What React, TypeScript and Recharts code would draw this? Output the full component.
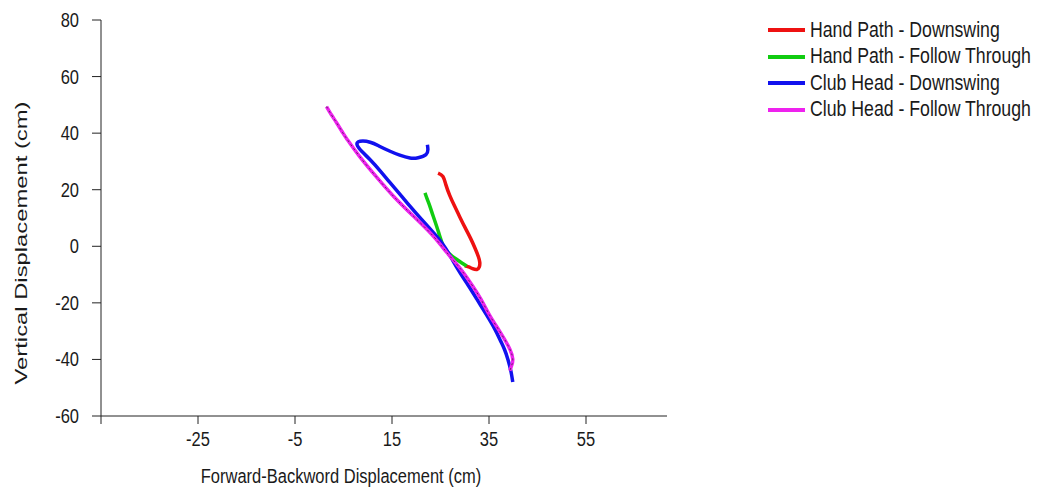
import { LineChart, Line, XAxis, YAxis } from 'recharts';

// Golf swing trajectories (cm)
const handDownswing = [
  [24.5, 25.9], [25.5, 24.7], [26.1, 21.8], [26.9, 18.0], [27.9, 14.2], [29.0, 10.3],
  [30.1, 6.5], [31.2, 2.8], [32.1, -0.6], [32.8, -3.6], [33.1, -5.7],
  [33.0, -7.3], [32.5, -8.2], [31.6, -7.9], [30.8, -7.3], [30.0, -6.9],
];
const handFollow = [
  [30.4, -7.0], [29.4, -5.9], [28.3, -4.6], [27.2, -3.2], [26.3, -1.7], [25.6, 0],
  [25.2, 1.8], [24.7, 4.4], [24.2, 7.1], [23.5, 10.6], [22.8, 14.2], [22.3, 16.5], [21.8, 18.9],
];
const clubDownswing = [
  [22.3, 35.9], [22.4, 34.2], [22.0, 32.4], [20.4, 31.3], [18.7, 31.2], [16.6, 32.2],
  [14.6, 33.6], [12.5, 35.3], [10.5, 36.8], [8.4, 37.1], [7.8, 35.9], [8.8, 33.5],
  [10.5, 30.6], [12.6, 26.6], [14.6, 22.5], [16.7, 18.3], [18.7, 14.2], [21.1, 9.5],
  [23.5, 4.9], [26.0, -0.6], [28.6, -8.2], [30.6, -13.5], [32.5, -18.7], [34.4, -24.0],
  [36.2, -29.3], [37.4, -33.5], [38.2, -36.5], [38.9, -40.0], [39.5, -44.0], [39.9, -48.0],
];
const clubFollow = [
  [1.5, 49.4], [2.5, 46.5], [3.6, 43.6], [4.9, 40.0], [5.8, 37.7], [8.3, 31.8], [11.7, 24.7],
  [15.3, 17.7], [19.5, 10.5], [23.5, 3.6], [26.3, -2.2], [28.8, -7.3], [31.1, -12.7],
  [33.3, -18.6], [35.2, -24.6], [37.4, -30.6], [39.3, -36.4], [39.9, -39.9], [39.7, -42.0],
  [39.3, -44.0],
];

// -45 is the axis minimum: it gets a tick mark but no label
const xTicks = [-45, -25, -5, 15, 35, 55];
const yTicks = [-60, -40, -20, 0, 20, 40, 60, 80];

const toRows = (pts: number[][]) => pts.map(([x, y]) => ({ x, y }));

const series = [
  { name: 'Hand Path - Downswing', color: '#ee1111', data: toRows(handDownswing) },
  { name: 'Hand Path - Follow Through', color: '#11cc11', data: toRows(handFollow) },
  { name: 'Club Head - Downswing', color: '#1111ee', data: toRows(clubDownswing) },
  { name: 'Club Head - Follow Through', color: '#ee22ee', data: toRows(clubFollow) },
];

const font = '"Liberation Sans", Arial, sans-serif';
const axisColor = '#222';
const textColor = '#1a1a1a';
const stretch = 1.2; // the reference text is a bit taller than wide

const XTick = (props: any) => {
  const { x, y, payload } = props;
  if (payload.value === -45) return null;
  return (
    <text transform={`translate(${x},${y}) scale(1,${stretch})`} textAnchor="middle" dy="0.85em"
      fontSize={16.5} fontFamily={font} fill={textColor}>
      {payload.value}
    </text>
  );
};

const YTick = (props: any) => {
  const { x, y, payload } = props;
  return (
    <text transform={`translate(${x},${y}) scale(1,${stretch})`} textAnchor="end" dy="0.35em"
      fontSize={16.5} fontFamily={font} fill={textColor}>
      {payload.value}
    </text>
  );
};

const XTitle = () => (
  <text transform={`translate(341,476) scale(1,${stretch})`} textAnchor="middle" dy="0.35em"
    fontSize={16.5} fontFamily={font} fill={textColor}>
    Forward-Backword Displacement (cm)
  </text>
);

const YTitle = () => (
  <text transform={`translate(21,243) scale(1,1.4) rotate(-90)`} textAnchor="middle" dy="0.35em"
    fontSize={17} fontFamily={font} fill={textColor}>
    Vertical Displacement (cm)
  </text>
);

export default function App() {
  return (
    <div style={{ position: 'absolute', left: 0, top: 0, width: 1039, height: 494, fontFamily: font }}>
      <LineChart width={1039} height={494} margin={{ top: 20, right: 372, bottom: 0, left: 0 }}>
        <XAxis
          type="number"
          dataKey="x"
          domain={[-45, 71.7]}
          ticks={xTicks}
          allowDataOverflow
          stroke={axisColor}
          tickSize={8}
          tickMargin={5}
          height={78}
          tick={<XTick />}
          label={{ content: () => <XTitle /> }}
        />
        <YAxis
          type="number"
          dataKey="y"
          domain={[-60, 80]}
          ticks={yTicks}
          stroke={axisColor}
          tickSize={9}
          tickMargin={13}
          width={101}
          tick={<YTick />}
          label={{ content: () => <YTitle /> }}
        />
        {series.map((s) => (
          <Line
            key={s.name}
            data={s.data}
            dataKey="y"
            name={s.name}
            type="natural"
            stroke={s.color}
            strokeWidth={3.5}
            dot={false}
            activeDot={false}
            isAnimationActive={false}
          />
        ))}
        <Line
          data={series[3].data}
          dataKey="y"
          type="natural"
          stroke="#333"
          strokeOpacity={0.8}
          strokeWidth={1}
          strokeDasharray="2 3"
          dot={false}
          activeDot={false}
          legendType="none"
          isAnimationActive={false}
        />
      </LineChart>
      <div style={{ position: 'absolute', left: 768, top: 17 }}>
        {series.map((s) => (
          <div key={s.name} style={{ display: 'flex', alignItems: 'center', height: 26.5 }}>
            <div style={{ width: 37, height: 4, background: s.color, marginRight: 5 }} />
            <span style={{ fontSize: 17.7, color: textColor, whiteSpace: 'nowrap', display: 'inline-block', transform: `scaleY(${stretch})` }}>{s.name}</span>
          </div>
        ))}
      </div>
    </div>
  );
}
